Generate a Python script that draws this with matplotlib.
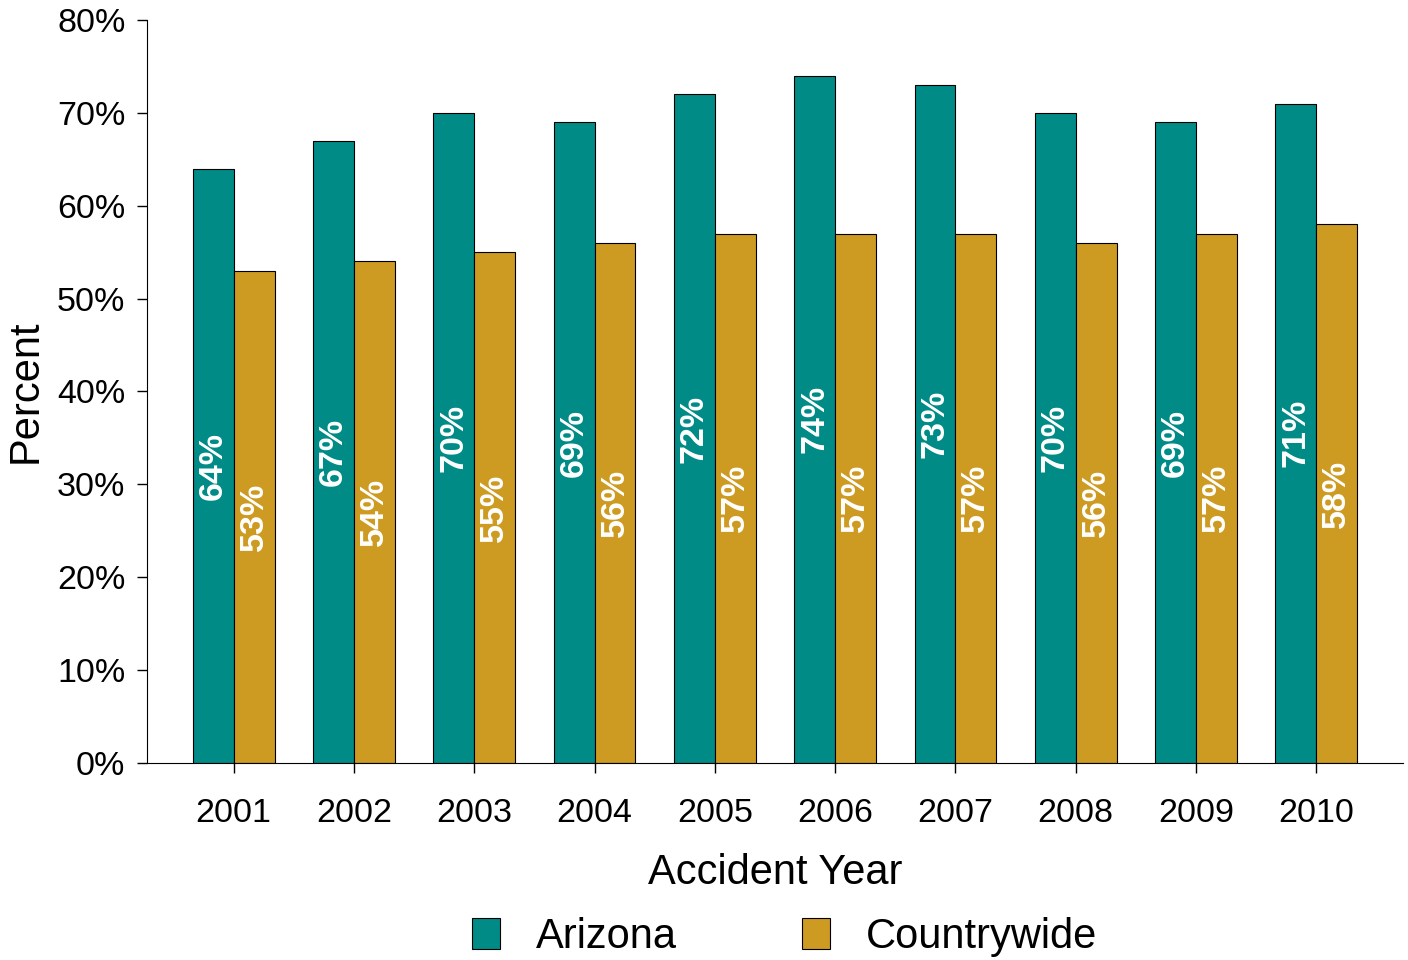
import numpy as np
import matplotlib
matplotlib.use("Agg")
import matplotlib.pyplot as plt
from matplotlib.ticker import FuncFormatter

# Data
years = ["2001", "2002", "2003", "2004", "2005", "2006", "2007", "2008", "2009", "2010"]
arizona = [64, 67, 70, 69, 72, 74, 73, 70, 69, 71]
countrywide = [53, 54, 55, 56, 57, 57, 57, 56, 57, 58]

teal = "#008B87"
gold = "#CD9B22"

plt.rcParams["font.family"] = ["Liberation Sans", "DejaVu Sans"]

fig = plt.figure(figsize=(14.08, 9.6), dpi=100)
ax = fig.add_axes([0.1044, 0.2052, 0.892, 0.774])

x = np.arange(len(years))
w = 0.34
b1 = ax.bar(x - w / 2, arizona, w, color=teal, edgecolor="black", linewidth=0.8, label="Arizona")
b2 = ax.bar(x + w / 2, countrywide, w, color=gold, edgecolor="black", linewidth=0.8, label="Countrywide")

# value labels, rotated, in the middle of each bar
for bars, vals in ((b1, arizona), (b2, countrywide)):
    for bar, v in zip(bars, vals):
        ax.text(bar.get_x() + bar.get_width() / 2, v / 2, f"{v}%",
                rotation=90, ha="center", va="center", color="white",
                fontsize=24.5, fontweight="bold")

ax.set_ylim(0, 80)
ax.set_yticks(range(0, 81, 10))
ax.yaxis.set_major_formatter(FuncFormatter(lambda v, p: f"{v:.0f}%"))
ax.set_xlim(-0.72, len(years) - 1 + 0.72)
ax.set_xticks(x)
ax.set_xticklabels(years)

for s in ("top", "right"):
    ax.spines[s].set_visible(False)
ax.tick_params(axis="both", labelsize=24.5, length=7.5, width=1, direction="out")
ax.tick_params(axis="x", pad=18)
ax.tick_params(axis="y", pad=8)

ax.set_xlabel("Accident Year", fontsize=30, labelpad=17)
ax.set_ylabel("Percent", fontsize=30, labelpad=8)

fig.legend(handles=[b1, b2], loc="center", bbox_to_anchor=(0.557, 0.024),
           ncol=2, frameon=False, fontsize=30, handlelength=0.67, handleheight=0.8,
           handletextpad=0.86, columnspacing=3.0)

fig.savefig("out.png", dpi=100)
